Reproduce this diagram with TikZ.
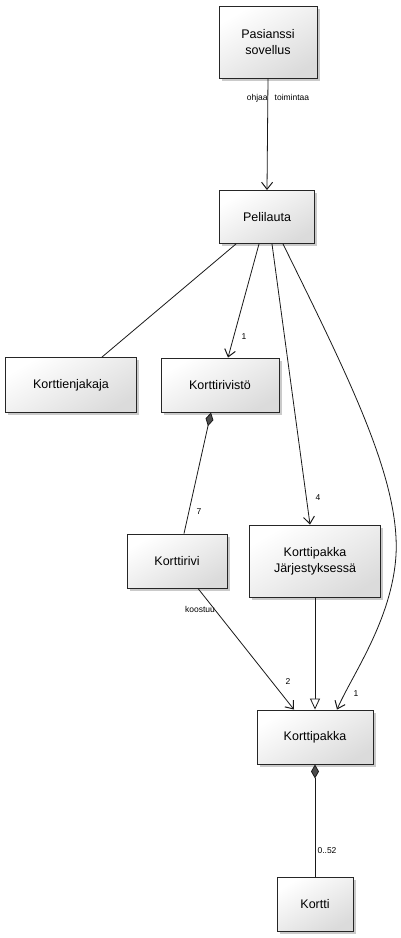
\documentclass[tikz,border=0pt]{standalone}
\usepackage{fontspec}
\setmainfont{Liberation Sans}
\usetikzlibrary{arrows.meta,shadows}
\begin{document}
\begin{tikzpicture}[x=1pt,y=-1pt,
  cls/.style={draw=black!85, line width=0.9pt, rectangle, align=center,
    top color=white, bottom color=black!14, shading angle=30,
    drop shadow={shadow xshift=2.5pt, shadow yshift=-2.5pt, fill=black!35, opacity=0.6},
    font=\fontsize{12.5}{16}\selectfont, inner sep=0pt},
  conn/.style={draw=black!90, line width=0.8pt},
  arr/.style={conn, -{Straight Barb[length=7pt,width=11pt,line width=1pt]}},
  inh/.style={conn, -{Triangle[open,length=11pt,width=10pt,fill=white]}},
  comp/.style={conn, {Diamond[length=14pt,width=8pt,fill=black!70]}-},
  lbl/.style={font=\fontsize{8.5}{10}\selectfont, inner sep=1pt}
]
\useasboundingbox (0,0) rectangle (401,938);

\node[cls, minimum width=98pt, minimum height=72pt] (pas) at (268,42) {Pasianssi\\sovellus};
\node[cls, minimum width=95pt, minimum height=53pt] (pel) at (267,217) {Pelilauta};
\node[cls, minimum width=131pt, minimum height=55pt] (jak) at (71,385) {Korttienjakaja};
\node[cls, minimum width=118pt, minimum height=54pt] (krs) at (220,385) {Korttirivistö};
\node[cls, minimum width=100pt, minimum height=54pt] (kri) at (177,561) {Korttirivi};
\node[cls, minimum width=131pt, minimum height=72pt] (kj) at (315,561) {Korttipakka\\Järjestyksessä};
\node[cls, minimum width=116pt, minimum height=54pt] (kp) at (315,737) {Korttipakka};
\node[cls, minimum width=76pt, minimum height=54pt] (ko) at (315,904) {Kortti};

\draw[arr] (pas.south) -- (pel.north);
\node[lbl] (l1) at (278,98) {ohjaa\ \ \ toimintaa};

\draw[conn] ([xshift=-31pt]pel.south) -- ([xshift=31pt]jak.north);
\draw[arr] ([xshift=-8pt]pel.south) -- ([xshift=8pt]krs.north);
\node[lbl] (l2) at (244,337) {1};
\draw[arr] ([xshift=5pt]pel.south) -- ([xshift=-5pt]kj.north);
\node[lbl] (l3) at (318,498) {4};
\draw[arr] ([xshift=16pt]pel.south) .. controls (350,380) and (400,480) .. (396,555)
   .. controls (392,620) and (352,675) .. ([xshift=22pt]kp.north);
\node[lbl] (l4) at (356,694) {1};

\draw[comp] ([xshift=-9pt]krs.south) -- ([xshift=7pt]kri.north);
\node[lbl] (l5) at (199,512) {7};

\draw[arr] ([xshift=21pt]kri.south) -- ([xshift=-21pt]kp.north);
\node[lbl] (l6) at (200,609) {koostuu};
\node[lbl] (l7) at (288,682) {2};

\draw[inh] (kj.south) -- (kp.north);

\draw[comp] (kp.south) -- (ko.north);
\node[lbl] (l8) at (327,851) {0..52};
\end{tikzpicture}
\end{document}
